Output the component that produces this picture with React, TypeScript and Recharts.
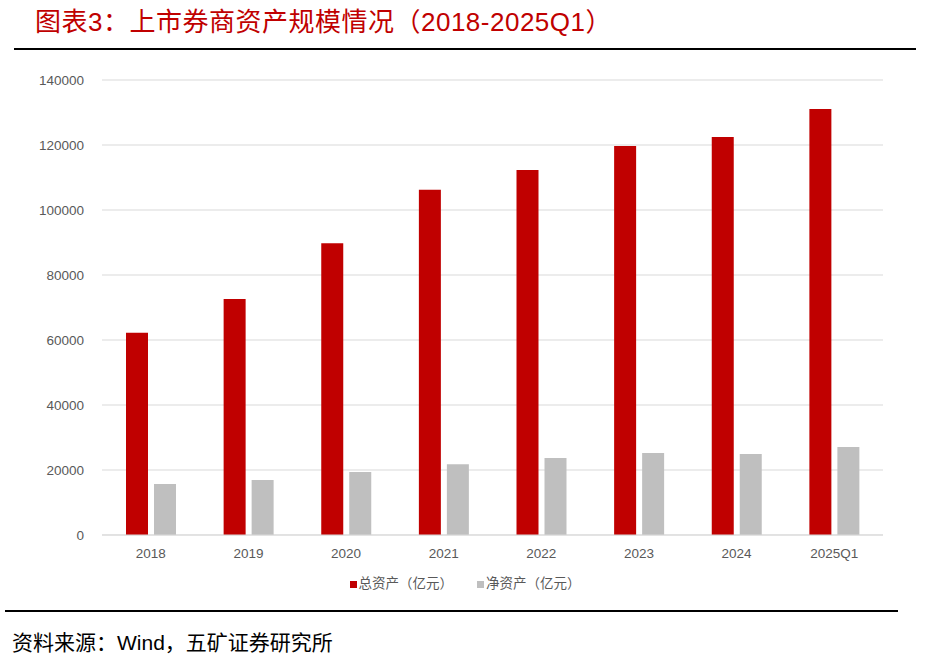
import React from "react";
import { BarChart, Bar, XAxis, YAxis, CartesianGrid } from "recharts";

const categories = ["2018", "2019", "2020", "2021", "2022", "2023", "2024", "2025Q1"];
const totalAssets = [62200, 72600, 89800, 106200, 112300, 119700, 122500, 131100];
const netAssets = [15700, 16900, 19400, 21800, 23700, 25200, 24900, 27100];
const yTicks = [0, 20000, 40000, 60000, 80000, 100000, 120000, 140000];

const seriesNames = ["总资产（亿元）", "净资产（亿元）"];
const colors = ["#C00000", "#BFBFBF"];

const data = categories.map((c, i) => ({
  name: c,
  total: totalAssets[i],
  net: netAssets[i],
}));

const FONT = "'Liberation Sans', 'Noto Sans CJK SC', sans-serif";

export default function App() {
  return (
    <div style={{ position: "absolute", left: 0, top: 0, width: 926, height: 665, background: "#fff", fontFamily: FONT }}>
      <div
        style={{
          position: "absolute",
          left: 35,
          top: 5,
          fontSize: 26,
          letterSpacing: 0.5,
          color: "#C00000",
          fontFamily: FONT,
          whiteSpace: "nowrap",
          lineHeight: "34px",
        }}
      >
        图表3：上市券商资产规模情况（2018-2025Q1）
      </div>
      <div style={{ position: "absolute", left: 14, top: 48, width: 902, height: 1.5, background: "#000" }} />
      <div style={{ position: "absolute", left: 0, top: 0 }}>
        <BarChart
          width={926}
          height={665}
          data={data}
          margin={{ top: 80, right: 43, left: 0, bottom: 100 }}
          barCategoryGap="24.4%"
          barGap={6}
        >
          <CartesianGrid vertical={false} stroke="#D9D9D9" />
          <XAxis
            dataKey="name"
            height={30}
            tickLine={false}
            axisLine={{ stroke: "#D9D9D9" }}
            tick={{ fill: "#595959", fontSize: 13.5, fontFamily: FONT }}
            tickMargin={7}
          />
          <YAxis
            width={102}
            ticks={yTicks}
            domain={[0, 140000]}
            interval={0}
            tickLine={false}
            axisLine={false}
            tick={{ fill: "#595959", fontSize: 13.5, fontFamily: FONT }}
            tickMargin={10}
            tickSize={8}
          />
          <Bar dataKey="total" name={seriesNames[0]} fill={colors[0]} barSize={22} isAnimationActive={false} />
          <Bar dataKey="net" name={seriesNames[1]} fill={colors[1]} barSize={22} isAnimationActive={false} />
        </BarChart>
      </div>
      <div
        style={{
          position: "absolute",
          left: 0,
          top: 574,
          width: 926,
          display: "flex",
          justifyContent: "center",
          gap: 24,
          fontFamily: FONT,
          fontSize: 13.5,
          color: "#595959",
          lineHeight: "20px",
          paddingLeft: 2,
        }}
      >
        {seriesNames.map((n, i) => (
          <div key={n} style={{ display: "flex", alignItems: "center" }}>
            <span style={{ display: "inline-block", width: 7, height: 7, background: colors[i], marginRight: 2 }} />
            <span>{n}</span>
          </div>
        ))}
      </div>
      <div style={{ position: "absolute", left: 5, top: 610, width: 893, height: 1.5, background: "#000" }} />
      <div
        style={{
          position: "absolute",
          left: 12,
          top: 629,
          fontSize: 21,
          color: "#000",
          fontFamily: FONT,
          whiteSpace: "nowrap",
          lineHeight: "28px",
        }}
      >
        资料来源：Wind，五矿证券研究所
      </div>
    </div>
  );
}
